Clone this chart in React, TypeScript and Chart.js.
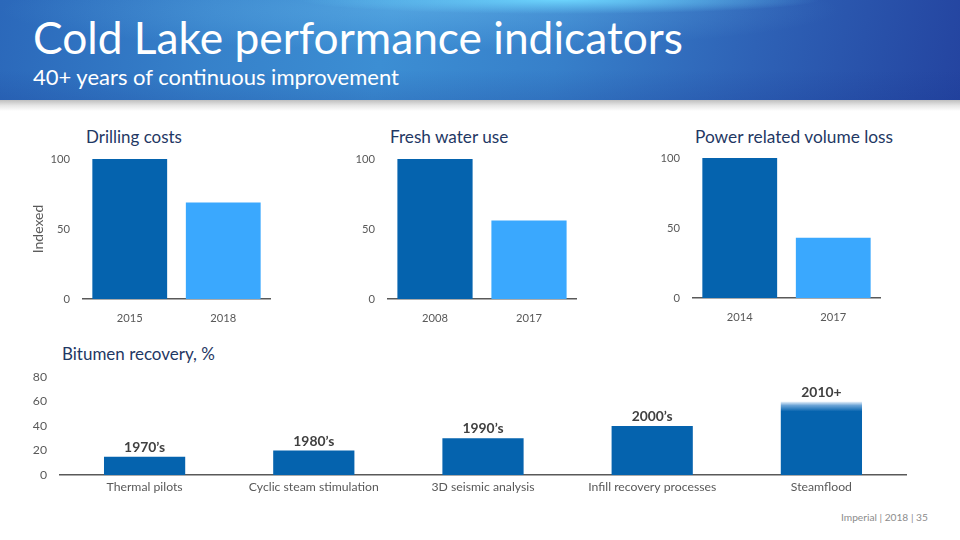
import React, { useEffect, useRef } from "react";
import { Chart, registerables } from "chart.js";

Chart.register(...registerables);

const FONT = "Lato, 'Open Sans', sans-serif";

// ---------- Data ----------
const drillingYears = ["2015", "2018"];
const drillingValues = [100, 69];
const waterYears = ["2008", "2017"];
const waterValues = [100, 56];
const powerYears = ["2014", "2017"];
const powerValues = [100, 43];
const indexTicks = [0, 50, 100];

const recoveryCategories = [
  "Thermal pilots",
  "Cyclic steam stimulation",
  "3D seismic analysis",
  "Infill recovery processes",
  "Steamflood",
];
const recoveryValues = [15, 20, 30, 40, 60];
const recoveryEras = ["1970\u2019s", "1980\u2019s", "1990\u2019s", "2000\u2019s", "2010+"];
const recoveryTicks = [0, 20, 40, 60, 80];

// ---------- Styles ----------
const DARK = "#0563AE";
const LIGHT = "#3AA8FE";
const TICK = "#595959";
const NAVY = "#1F3864";

let measureCtx: CanvasRenderingContext2D | null = null;
function fitSize(text: string, weight: string, target: number): number {
  if (!measureCtx) measureCtx = document.createElement("canvas").getContext("2d");
  if (!measureCtx) return 16;
  measureCtx.font = `${weight} 100px ${FONT}`;
  const w = measureCtx.measureText(text).width;
  return (100 * target) / w;
}

type Box = { left: number; top: number; width: number; height: number };
type Area = { left: number; top: number; right: number; bottom: number };

function Text(props: {
  text: string;
  x: number;
  baseline: number;
  width: number;
  color: string;
  weight?: string;
}) {
  const weight = props.weight || "normal";
  const size = fitSize(props.text, weight, props.width);
  return (
    <div
      style={{
        position: "absolute",
        left: props.x,
        top: props.baseline - 0.987 * size,
        fontFamily: FONT,
        fontWeight: weight as any,
        fontSize: size,
        lineHeight: 1.2,
        color: props.color,
        whiteSpace: "nowrap",
      }}
    >
      {props.text}
    </div>
  );
}

const zeroPad = (s: any) => {
  s.paddingTop = 0;
  s.paddingBottom = 0;
  s.paddingLeft = 0;
  s.paddingRight = 0;
};

function SmallBars(props: {
  labels: string[];
  values: number[];
  box: Box;
  area: Area;
  yTitle?: string;
}) {
  const ref = useRef<HTMLCanvasElement>(null);
  useEffect(() => {
    const { box, area } = props;
    const tickSize = fitSize("2015", "normal", 26);
    const chart = new Chart(ref.current!, {
      type: "bar",
      data: {
        labels: props.labels,
        datasets: [
          {
            data: props.values,
            backgroundColor: [DARK, LIGHT],
            categoryPercentage: 0.8,
            barPercentage: 1,
          },
        ],
      },
      options: {
        animation: false,
        responsive: false,
        layout: {
          padding: {
            top: area.top - box.top,
            right: box.left + box.width - area.right,
            left: 0,
            bottom: 0,
          },
        },
        plugins: { legend: { display: false }, tooltip: { enabled: false } },
        scales: {
          x: {
            grid: { display: false, drawTicks: false },
            border: { display: true, color: TICK, width: 1.5 },
            ticks: { color: TICK, font: { family: FONT, size: tickSize }, padding: 13 },
            afterFit: (s: any) => {
              s.height = box.top + box.height - area.bottom;
              zeroPad(s);
            },
          },
          y: {
            min: 0,
            max: 100,
            afterBuildTicks: (s: any) => {
              s.ticks = indexTicks.map((v) => ({ value: v }));
            },
            grid: { display: false, drawTicks: false },
            border: { display: false },
            ticks: { color: TICK, font: { family: FONT, size: tickSize }, padding: 13 },
            title: {
              display: !!props.yTitle,
              text: props.yTitle || "",
              color: TICK,
              font: { family: FONT, size: 14 },
              padding: { top: 5, bottom: 0 },
            },
            afterFit: (s: any) => {
              s.width = area.left - box.left;
              zeroPad(s);
            },
          },
        },
      } as any,
    });
    return () => chart.destroy();
  }, []);
  const { box } = props;
  return (
    <canvas
      ref={ref}
      width={box.width}
      height={box.height}
      style={{ position: "absolute", left: box.left, top: box.top, width: box.width, height: box.height }}
    />
  );
}

function RecoveryBars() {
  const ref = useRef<HTMLCanvasElement>(null);
  const box: Box = { left: 20, top: 360, width: 900, height: 142 };
  const area: Area = { left: 60, top: 377, right: 906, bottom: 475 };
  useEffect(() => {
    const tickSize = fitSize("Cyclic steam stimulation", "normal", 130);
    const labelSize = fitSize("1970\u2019s", "bold", 41);
    const eraLabels = {
      id: "eraLabels",
      afterDatasetsDraw(chart: any) {
        const meta = chart.getDatasetMeta(0);
        const ctx = chart.ctx;
        ctx.save();
        ctx.font = `bold ${labelSize}px ${FONT}`;
        ctx.fillStyle = "#404040";
        ctx.textAlign = "center";
        ctx.textBaseline = "alphabetic";
        meta.data.forEach((bar: any, i: number) => {
          ctx.fillText(recoveryEras[i], bar.x, bar.y - 5);
        });
        ctx.restore();
      },
    };
    const chart = new Chart(ref.current!, {
      type: "bar",
      data: {
        labels: recoveryCategories,
        datasets: [
          {
            data: recoveryValues,
            backgroundColor: (c: any) => {
              if (c.type !== "data" || c.dataIndex !== recoveryValues.length - 1) return DARK;
              const ch = c.chart;
              const ys = ch.scales && ch.scales.y;
              if (!ys || !ch.chartArea) return DARK;
              const top = ys.getPixelForValue(recoveryValues[c.dataIndex]);
              const g = ch.ctx.createLinearGradient(0, top, 0, top + 10);
              g.addColorStop(0, "#eef5fc");
              g.addColorStop(0.4, "#6aa3d6");
              g.addColorStop(1, DARK);
              return g;
            },
            categoryPercentage: 0.48,
            barPercentage: 1,
          },
        ],
      },
      options: {
        animation: false,
        responsive: false,
        layout: {
          padding: {
            top: area.top - box.top,
            right: box.left + box.width - area.right,
            left: 0,
            bottom: 0,
          },
        },
        plugins: { legend: { display: false }, tooltip: { enabled: false } },
        scales: {
          x: {
            grid: { display: false, drawTicks: false },
            border: { display: true, color: TICK, width: 1.5 },
            ticks: { color: TICK, font: { family: FONT, size: tickSize }, padding: 5, maxRotation: 0, autoSkip: false },
            afterFit: (s: any) => {
              s.height = box.top + box.height - area.bottom;
              zeroPad(s);
            },
          },
          y: {
            min: 0,
            max: 80,
            afterBuildTicks: (s: any) => {
              s.ticks = recoveryTicks.map((v) => ({ value: v }));
            },
            grid: { display: false, drawTicks: false },
            border: { display: false },
            ticks: { color: TICK, font: { family: FONT, size: tickSize }, padding: 13 },
            afterFit: (s: any) => {
              s.width = area.left - box.left;
              zeroPad(s);
            },
          },
        },
      } as any,
      plugins: [eraLabels],
    });
    return () => chart.destroy();
  }, []);
  return (
    <canvas
      ref={ref}
      width={box.width}
      height={box.height}
      style={{ position: "absolute", left: box.left, top: box.top, width: box.width, height: box.height }}
    />
  );
}

export default function App() {
  useEffect(() => {
    document.body.style.margin = "0";
  }, []);
  return (
    <div
      style={{
        position: "absolute",
        left: 0,
        top: 0,
        width: 960,
        height: 540,
        background: "#ffffff",
        overflow: "hidden",
      }}
    >
      {/* header banner */}
      <div
        style={{
          position: "absolute",
          left: 0,
          top: 0,
          width: 960,
          height: 100,
          background:
            "radial-gradient(ellipse 260px 14px at 560px 0px, rgba(110,215,255,0.95), rgba(110,215,255,0) 100%)," +
            "radial-gradient(ellipse 420px 40px at 420px 10px, rgba(120,200,245,0.35), rgba(120,200,245,0) 100%)," +
            "linear-gradient(180deg, rgba(255,255,255,0) 70%, rgba(20,50,140,0.18) 100%)," +
            "linear-gradient(100deg, #2b68ba 0%, #3681ca 22%, #3c8ed3 40%, #3780ca 58%, #2e62b6 78%, #2444a0 100%)",
        }}
      />
      <div
        style={{
          position: "absolute",
          left: 0,
          top: 100,
          width: 960,
          height: 11,
          background: "linear-gradient(180deg, #bfbfbf 0%, #e6e6e6 50%, #ffffff 100%)",
        }}
      />
      <Text text="Cold Lake performance indicators" x={33} baseline={54} width={650} color="#ffffff" />
      <Text text="40+ years of continuous improvement" x={33} baseline={86} width={367} color="#ffffff" />

      <Text text="Drilling costs" x={86} baseline={144} width={96} color={NAVY} />
      <Text text="Fresh water use" x={390} baseline={144} width={119} color={NAVY} />
      <Text text="Power related volume loss" x={695} baseline={144} width={199} color={NAVY} />
      <Text text="Bitumen recovery, %" x={62} baseline={361} width={153} color={NAVY} />

      <SmallBars
        labels={drillingYears}
        values={drillingValues}
        box={{ left: 25, top: 150, width: 255, height: 180 }}
        area={{ left: 83, top: 159, right: 270, bottom: 299 }}
        yTitle="Indexed"
      />
      <SmallBars
        labels={waterYears}
        values={waterValues}
        box={{ left: 330, top: 150, width: 256, height: 180 }}
        area={{ left: 388, top: 159, right: 576, bottom: 299 }}
      />
      <SmallBars
        labels={powerYears}
        values={powerValues}
        box={{ left: 635, top: 149, width: 255, height: 180 }}
        area={{ left: 693, top: 158, right: 880, bottom: 298 }}
      />

      <RecoveryBars />

      <Text text="Imperial | 2018 | 35" x={841} baseline={521} width={87} color="#8c8c8c" />
    </div>
  );
}
